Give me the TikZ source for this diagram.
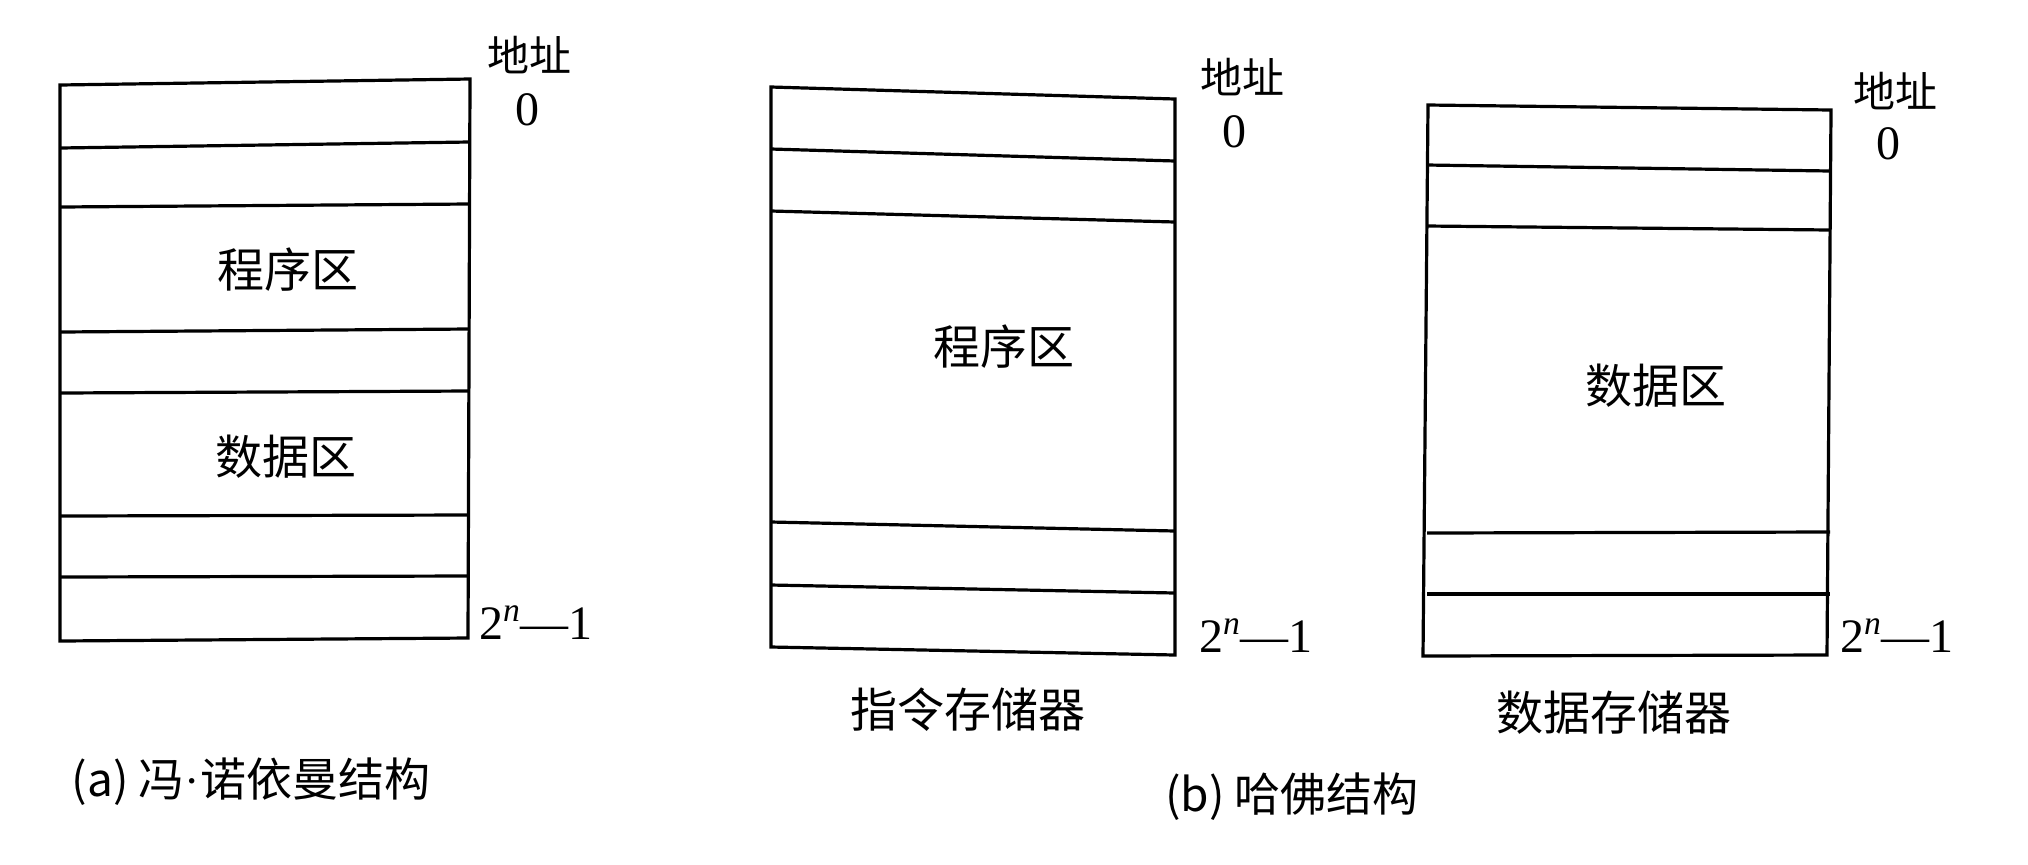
\documentclass[tikz,border=0pt]{standalone}
\usepackage{fontspec}
\usetikzlibrary{positioning}
\newfontfamily\cjkfont{Noto Sans CJK SC}
\newfontfamily\numfont{Liberation Serif}

\begin{document}
\begin{tikzpicture}[
        x=0.5pt, y=-0.5pt,
        memline/.style={draw=black, line width=1.6pt},
        regionlabel/.style={font=\cjkfont\fontsize{23.5}{23.5}\selectfont, inner sep=0pt},
        addrlabel/.style={font=\cjkfont\fontsize{21}{21}\selectfont, inner sep=0pt},
        numlabel/.style={font=\numfont\fontsize{24}{24}\selectfont, inner sep=0pt},
        captionlabel/.style={font=\cjkfont\fontsize{23}{23}\selectfont, inner sep=0pt}
    ]
        \useasboundingbox (0,0) rectangle (2028,864);
        % Von Neumann memory
        \draw[memline] (60,85) -- (470,79) -- (468,638) -- (60,641) -- cycle;
        \foreach \yl/\yr in {148/142, 207/204, 332/329, 393/391, 516/515, 577/576} {
            \draw[memline] (60,\yl) -- (469,\yr);
        }
        \node[regionlabel] (progA) at (288,270) {程序区};
        \node[regionlabel] (dataA) at (286,457) {数据区};
        \node[addrlabel] (addrA) at (529,55) {地址};
        \node[numlabel] (zeroA) at (527,110) {0};
        \node[numlabel] (lastA) at (536,623) {2\textsuperscript{\itshape n}—1};
        \node[captionlabel] (capA) at (251,782) {(a) 冯{\numfont ·}诺依曼结构};
        % Instruction memory
        \draw[memline] (771,87) -- (1175,99) -- (1175,655) -- (771,647) -- cycle;
        \foreach \yl/\yr in {149/161, 211/222, 522/531, 585/593} {
            \draw[memline] (771,\yl) -- (1175,\yr);
        }
        \node[regionlabel] (progB) at (1004,347) {程序区};
        \node[addrlabel] (addrB) at (1242,77) {地址};
        \node[numlabel] (zeroB) at (1234,132) {0};
        \node[numlabel] (lastB) at (1256,636) {2\textsuperscript{\itshape n}—1};
        \node[regionlabel] (nameB) at (968,710) {指令存储器};
        % Data memory
        \draw[memline] (1428,105) -- (1831,110) -- (1827,655) -- (1423,656) -- cycle;
        \foreach \yl/\yr in {165/171, 226/230, 533/532, 594/594} {
            \draw[memline] (1427,\yl) -- (1830,\yr);
        }
        \node[regionlabel] (dataC) at (1656,386) {数据区};
        \node[addrlabel] (addrC) at (1895,91) {地址};
        \node[numlabel] (zeroC) at (1888,144) {0};
        \node[numlabel] (lastC) at (1897,636) {2\textsuperscript{\itshape n}—1};
        \node[regionlabel] (nameC) at (1614,713) {数据存储器};
        % Caption
        \node[captionlabel] (capB) at (1292,797) {(b) 哈佛结构};
    \end{tikzpicture}
\end{document}
